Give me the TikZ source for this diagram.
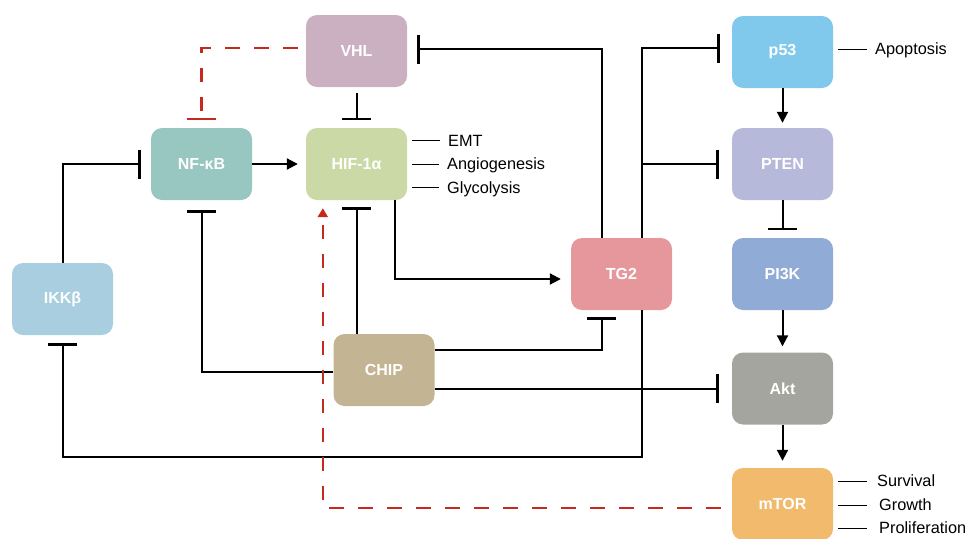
\documentclass[tikz,border=0pt]{standalone}
\usepackage{fontspec}
\setmainfont{Liberation Sans}
\usetikzlibrary{arrows.meta,calc}
\definecolor{cvhl}{HTML}{CAB0C1}
\definecolor{cnfkb}{HTML}{98C6C1}
\definecolor{chif}{HTML}{CAD9A5}
\definecolor{cikk}{HTML}{A8CEDF}
\definecolor{cchip}{HTML}{C3B493}
\definecolor{ctg}{HTML}{E6979B}
\definecolor{cp53}{HTML}{80C9EC}
\definecolor{cpten}{HTML}{B6B9DA}
\definecolor{cpik}{HTML}{8FABD6}
\definecolor{cakt}{HTML}{A5A59F}
\definecolor{cmtor}{HTML}{F1BA6C}
\definecolor{cred}{HTML}{C62A1E}
\tikzset{
  x=1pt, y=-1pt,
  box/.style={draw=none, rounded corners=11pt, minimum width=101pt, minimum height=72pt,
    inner sep=0pt, text=white, font=\fontsize{16}{18}\selectfont\bfseries},
  lab/.style={anchor=west, inner sep=0pt, text height=11.8pt, text depth=0pt,
    font=\fontsize{16.3}{18}\selectfont},
  labline/.style={line width=0.9pt},
  conn/.style={line width=2pt},
  act/.style={conn, -{Triangle[length=11pt,width=11pt]}},
  inh/.style={conn, -{Bar[width=29pt,line width=2.6pt]}},
  rdash/.style={line width=2.4pt, cred, dash pattern=on 14.5pt off 14.5pt},
  inhR/.style={rdash, -{Bar[width=29pt,line width=2.6pt]}},
  actR/.style={rdash, -{Triangle[length=9pt,width=10pt]}},
}
\begin{document}
\begin{tikzpicture}
\useasboundingbox (0,0) rectangle (973,538);
% nodes
\node[box, fill=cvhl]  (vhl)  at (356.5,51)  {VHL};
\node[box, fill=cnfkb] (nfkb) at (201.5,164) {NF-κB};
\node[box, fill=chif]  (hif)  at (356.5,164) {HIF-1α};
\node[box, fill=cikk]  (ikk)  at (62.5,299)  {IKKβ};
\node[box, fill=cchip] (chip) at (384,370)   {CHIP};
\node[box, fill=ctg]   (tg2)  at (621.5,274) {TG2};
\node[box, fill=cp53]  (p53)  at (782.5,52)  {p53};
\node[box, fill=cpten] (pten) at (782.5,164) {PTEN};
\node[box, fill=cpik]  (pi3k) at (782.5,274) {PI3K};
\node[box, fill=cakt]  (akt)  at (782.5,388.5) {Akt};
\node[box, fill=cmtor] (mtor) at (782.5,504) {mTOR};
% labels
\node[lab] (emt)   at (448,140.5) {EMT};
\node[lab] (angio) at (447,164) {Angiogenesis};
\node[lab] (glyco) at (447,187.5) {Glycolysis};
\node[lab] (apop)  at (875,49) {Apoptosis};
\node[lab] (surv)  at (877,481) {Survival};
\node[lab] (grow)  at (879,505) {Growth};
\node[lab] (prol)  at (879,528) {Proliferation};
\foreach \t in {emt,angio,glyco}
  \draw[labline] ([xshift=5pt]hif.east |- \t.west) -- ([xshift=-8pt]\t.west);
\draw[labline] ([xshift=5pt]p53.east |- apop.west) -- ([xshift=-8pt]apop.west);
\foreach \t in {surv,grow,prol}
  \draw[labline] ([xshift=5pt]mtor.east |- \t.west) -- (867,0 |- \t.west);
% connectors
\draw[inhR, shorten <=8pt, shorten >=7.5pt] ([yshift=3pt]vhl.west) -| (nfkb.north);
\draw[inh, shorten <=6pt, shorten >=7.5pt] (vhl.south) -- (hif.north);
\draw[act, shorten >=8pt] (nfkb.east) -- (hif.west);
\draw[inh, shorten >=10pt] (ikk.north) |- (nfkb.west);
\draw[inh, shorten >=10pt] ([yshift=-2pt]chip.west) -| (nfkb.south);
\draw[inh, shorten >=7pt] (chip.north -| hif.south) -- (hif.south);
\draw[act, shorten >=10pt] ([xshift=38pt]hif.south) |- ([yshift=-5pt]tg2.west);
\draw[inh, shorten >=10pt] ([xshift=-20pt]tg2.north) |- ([yshift=2pt]vhl.east);
\draw[inh, shorten >=12pt] ([xshift=20.5pt]tg2.north) |- ([yshift=4pt]p53.west);
\draw[inh, shorten >=13pt] ([xshift=20.5pt]tg2.north |- pten.west) -- (pten.west);
\draw[inh, shorten >=8pt] ([xshift=20.5pt]tg2.south) -- ++(0,147) -| (ikk.south);
\draw[inh, shorten >=7pt] ([yshift=20pt]chip.east) -| ([xshift=-20pt]tg2.south);
\draw[inh, shorten >=13pt] (chip.east |- akt.west) -- (akt.west);
\draw[act, shorten >=5pt] (p53.south) -- (pten.north);
\draw[inh, shorten >=7.5pt] (pten.south) -- (pi3k.north);
\draw[act, shorten >=6pt] (pi3k.south) -- (akt.north);
\draw[act, shorten >=7pt] (akt.south) -- (mtor.north);
\draw[actR, shorten <=11pt, shorten >=8pt] ([yshift=-4pt]mtor.west) -| ([xshift=17pt]hif.south west);
\end{tikzpicture}
\end{document}
